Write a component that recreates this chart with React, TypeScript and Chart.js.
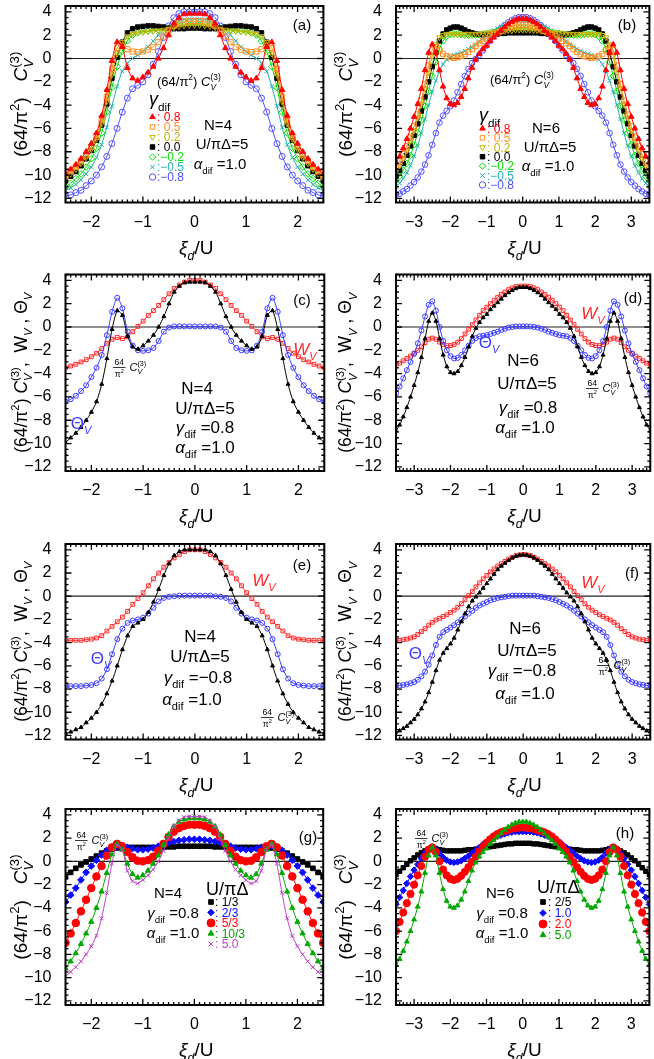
import React, { useEffect, useRef } from 'react';
import { Chart, registerables } from 'chart.js';
import { drawPoint } from 'chart.js/helpers';

Chart.register(...registerables);

const FF = '"Liberation Sans", Arial, Helvetica, sans-serif';

// ---------- x grids and tick labels ----------
const X4 = [-2.5,-2.4,-2.3,-2.2,-2.1,-2,-1.9,-1.8,-1.7,-1.6,-1.5,-1.4,-1.3,-1.2,-1.1,-1,-0.9,-0.8,-0.7,-0.6,-0.5,-0.4,-0.3,-0.2,-0.1,0,0.1,0.2,0.3,0.4,0.5,0.6,0.7,0.8,0.9,1,1.1,1.2,1.3,1.4,1.5,1.6,1.7,1.8,1.9,2,2.1,2.2,2.3,2.4,2.5];
const X6 = [-3.5,-3.4,-3.3,-3.2,-3.1,-3,-2.9,-2.8,-2.7,-2.6,-2.5,-2.4,-2.3,-2.2,-2.1,-2,-1.9,-1.8,-1.7,-1.6,-1.5,-1.4,-1.3,-1.2,-1.1,-1,-0.9,-0.8,-0.7,-0.6,-0.5,-0.4,-0.3,-0.2,-0.1,0,0.1,0.2,0.3,0.4,0.5,0.6,0.7,0.8,0.9,1,1.1,1.2,1.3,1.4,1.5,1.6,1.7,1.8,1.9,2,2.1,2.2,2.3,2.4,2.5,2.6,2.7,2.8,2.9,3,3.1,3.2,3.3,3.4,3.5];
const X4_TICKS = [-2, -1, 0, 1, 2];
const X6_TICKS = [-3, -2, -1, 0, 1, 2, 3];
const Y_TICKS = [-12, -10, -8, -6, -4, -2, 0, 2, 4];

// ---------- N=4, U/piDelta=5 : (64/pi^2) C_V^(3) for gamma_dif ----------
const A_G08 = [-9.9,-9.5,-9.1,-8.6,-8.0,-7.3,-6.4,-4.9,-2.7,-0.2,1.4,1.0,-0.8,-1.7,-1.9,-1.6,-1.2,-0.7,0.0,0.9,2.0,3.0,3.5,3.8,3.85,3.85,3.85,3.8,3.5,3.0,2.0,0.9,0.0,-0.7,-1.2,-1.6,-1.9,-1.7,-0.8,1.0,1.4,-0.2,-2.7,-4.9,-6.4,-7.3,-8.0,-8.6,-9.1,-9.5,-9.9];
const A_G05 = [-10.1,-9.7,-9.3,-8.8,-8.3,-7.6,-6.7,-5.3,-3.3,-0.9,0.9,1.1,0.8,0.6,0.55,0.6,0.75,1.0,1.4,1.9,2.4,2.8,3.0,3.15,3.2,3.2,3.2,3.15,3.0,2.8,2.4,1.9,1.4,1.0,0.75,0.6,0.55,0.6,0.8,1.1,0.9,-0.9,-3.3,-5.3,-6.7,-7.6,-8.3,-8.8,-9.3,-9.7,-10.1];
const A_G02 = [-10.3,-9.9,-9.5,-9.0,-8.5,-7.8,-6.9,-5.6,-3.7,-1.4,0.4,1.4,1.9,2.1,2.2,2.25,2.3,2.35,2.4,2.45,2.55,2.65,2.75,2.8,2.85,2.85,2.85,2.8,2.75,2.65,2.55,2.45,2.4,2.35,2.3,2.25,2.2,2.1,1.9,1.4,0.4,-1.4,-3.7,-5.6,-6.9,-7.8,-8.5,-9.0,-9.5,-9.9,-10.3];
const A_G00 = [-10.5,-10.1,-9.7,-9.2,-8.6,-7.9,-7.0,-5.7,-3.9,-1.7,0.1,1.4,2.2,2.55,2.7,2.75,2.8,2.8,2.75,2.7,2.6,2.55,2.55,2.55,2.6,2.6,2.6,2.55,2.55,2.55,2.6,2.7,2.75,2.8,2.8,2.75,2.7,2.55,2.2,1.4,0.1,-1.7,-3.9,-5.7,-7.0,-7.9,-8.6,-9.2,-9.7,-10.1,-10.5];
const A_Gm02 = [-11.0,-10.7,-10.3,-9.9,-9.3,-8.6,-7.7,-6.4,-4.6,-2.5,-0.7,0.6,1.5,2.0,2.2,2.3,2.35,2.4,2.45,2.5,2.6,2.7,2.8,2.85,2.9,2.9,2.9,2.85,2.8,2.7,2.6,2.5,2.45,2.4,2.35,2.3,2.2,2.0,1.5,0.6,-0.7,-2.5,-4.6,-6.4,-7.7,-8.6,-9.3,-9.9,-10.3,-10.7,-11.0];
const A_Gm05 = [-11.3,-11.1,-10.8,-10.4,-9.9,-9.3,-8.5,-7.4,-5.9,-4.1,-2.4,-1.1,-0.4,0.0,0.3,0.6,1.0,1.5,2.0,2.4,2.7,3.0,3.2,3.35,3.4,3.4,3.4,3.35,3.2,3.0,2.7,2.4,2.0,1.5,1.0,0.6,0.3,0.0,-0.4,-1.1,-2.4,-4.1,-5.9,-7.4,-8.5,-9.3,-9.9,-10.4,-10.8,-11.1,-11.3];
const A_Gm08 = [-11.8,-11.7,-11.5,-11.3,-10.9,-10.5,-10.0,-9.3,-8.4,-7.3,-6.0,-4.6,-3.4,-2.6,-2.3,-2.0,-1.4,-0.5,0.6,1.8,2.8,3.5,3.85,4.0,4.0,4.0,4.0,4.0,3.85,3.5,2.8,1.8,0.6,-0.5,-1.4,-2.0,-2.3,-2.6,-3.4,-4.6,-6.0,-7.3,-8.4,-9.3,-10.0,-10.5,-10.9,-11.3,-11.5,-11.7,-11.8];

// ---------- N=4 W_V and Theta_V ----------
const W_C4 = [-3.5,-3.35,-3.2,-3.0,-2.8,-2.55,-2.25,-1.85,-1.4,-1.05,-0.9,-1.0,-0.85,-0.4,0.05,0.5,1.0,1.4,1.85,2.35,2.85,3.3,3.6,3.85,4.0,4.0,4.0,3.85,3.6,3.3,2.85,2.35,1.85,1.4,1.0,0.5,0.05,-0.4,-0.85,-1.0,-0.9,-1.05,-1.4,-1.85,-2.25,-2.55,-2.8,-3.0,-3.2,-3.35,-3.5];
const T_C4 = [-6.4,-6.2,-5.9,-5.5,-5.0,-4.3,-3.5,-2.4,-0.7,1.3,2.5,1.6,-0.4,-1.6,-2.0,-2.05,-2.0,-1.8,-1.2,-0.4,-0.05,0.05,0.05,0.05,0.05,0.05,0.05,0.05,0.05,0.05,-0.05,-0.4,-1.2,-1.8,-2.0,-2.05,-2.0,-1.6,-0.4,1.6,2.5,1.3,-0.7,-2.4,-3.5,-4.3,-5.0,-5.5,-5.9,-6.2,-6.4];
const W_E4 = [-3.8,-3.8,-3.8,-3.8,-3.75,-3.7,-3.6,-3.4,-3.0,-2.6,-2.2,-1.8,-1.3,-0.7,-0.2,0.3,0.9,1.5,2.0,2.5,2.9,3.3,3.6,3.85,4.0,4.0,4.0,3.85,3.6,3.3,2.9,2.5,2.0,1.5,0.9,0.3,-0.2,-0.7,-1.3,-1.8,-2.2,-2.6,-3.0,-3.4,-3.6,-3.7,-3.75,-3.8,-3.8,-3.8,-3.8];
const T_E4 = [-7.75,-7.75,-7.75,-7.75,-7.7,-7.65,-7.5,-7.1,-6.3,-5.0,-3.7,-2.8,-2.3,-2.1,-2.0,-1.85,-1.5,-1.0,-0.45,-0.15,-0.05,0.0,0.05,0.05,0.05,0.05,0.05,0.05,0.05,0.0,-0.05,-0.15,-0.45,-1.0,-1.5,-1.85,-2.0,-2.1,-2.3,-2.8,-3.7,-5.0,-6.3,-7.1,-7.5,-7.65,-7.7,-7.75,-7.75,-7.75,-7.75];

// ---------- N=4, gamma=0.8 : various U/piDelta ----------
const G_13 = [-1.3,-0.95,-0.6,-0.3,-0.05,0.2,0.45,0.7,0.9,1.05,1.15,1.2,1.2,1.2,1.2,1.2,1.2,1.2,1.2,1.2,1.25,1.25,1.3,1.3,1.3,1.3,1.3,1.3,1.3,1.25,1.25,1.2,1.2,1.2,1.2,1.2,1.2,1.2,1.2,1.2,1.15,1.05,0.9,0.7,0.45,0.2,-0.05,-0.3,-0.6,-0.95,-1.3];
const G_23 = [-3.5,-2.9,-2.3,-1.6,-0.95,-0.4,0.1,0.55,0.95,1.2,1.3,1.3,1.2,1.1,1.0,1.0,1.05,1.15,1.3,1.45,1.6,1.7,1.8,1.85,1.9,1.9,1.9,1.85,1.8,1.7,1.6,1.45,1.3,1.15,1.05,1.0,1.0,1.1,1.2,1.3,1.3,1.2,0.95,0.55,0.1,-0.4,-0.95,-1.6,-2.3,-2.9,-3.5];
const G_53 = [-7.0,-6.2,-5.3,-4.3,-3.3,-2.3,-1.3,-0.4,0.5,1.2,1.5,1.3,0.8,0.35,0.05,0.0,0.1,0.4,0.9,1.5,2.1,2.55,2.85,3.05,3.15,3.15,3.15,3.05,2.85,2.55,2.1,1.5,0.9,0.4,0.1,0.0,0.05,0.35,0.8,1.3,1.5,1.2,0.5,-0.4,-1.3,-2.3,-3.3,-4.3,-5.3,-6.2,-7.0];
const G_103 = [-9.2,-8.6,-7.9,-7.1,-6.2,-5.2,-4.0,-2.6,-1.0,0.6,1.5,1.0,-0.2,-1.1,-1.4,-1.2,-0.8,-0.2,0.5,1.4,2.3,3.0,3.4,3.6,3.7,3.7,3.7,3.6,3.4,3.0,2.3,1.4,0.5,-0.2,-0.8,-1.2,-1.4,-1.1,-0.2,1.0,1.5,0.6,-1.0,-2.6,-4.0,-5.2,-6.2,-7.1,-7.9,-8.6,-9.2];

// ---------- N=6, U/piDelta=5 : (64/pi^2) C_V^(3) for gamma_dif ----------
const B_G08 = [-8.9,-8.4,-7.7,-6.9,-6.0,-5.0,-3.9,-2.6,-1.0,0.5,1.2,0.5,-1.0,-2.4,-3.4,-3.9,-4.0,-3.8,-3.3,-2.6,-1.7,-0.8,-0.1,0.4,0.8,1.1,1.5,1.8,2.1,2.4,2.7,2.95,3.15,3.3,3.4,3.4,3.4,3.3,3.15,2.95,2.7,2.4,2.1,1.8,1.5,1.1,0.8,0.4,-0.1,-0.8,-1.7,-2.6,-3.3,-3.8,-4.0,-3.9,-3.4,-2.4,-1.0,0.5,1.2,0.5,-1.0,-2.6,-3.9,-5.0,-6.0,-6.9,-7.7,-8.4,-8.9];
const B_G05 = [-9.3,-8.8,-8.2,-7.5,-6.7,-5.8,-4.8,-3.6,-2.2,-0.6,0.7,1.0,0.7,0.4,0.2,0.1,0.05,0.1,0.2,0.35,0.55,0.8,1.05,1.3,1.5,1.7,1.9,2.05,2.2,2.35,2.5,2.65,2.75,2.85,2.9,2.9,2.9,2.85,2.75,2.65,2.5,2.35,2.2,2.05,1.9,1.7,1.5,1.3,1.05,0.8,0.55,0.35,0.2,0.1,0.05,0.1,0.2,0.4,0.7,1.0,0.7,-0.6,-2.2,-3.6,-4.8,-5.8,-6.7,-7.5,-8.2,-8.8,-9.3];
const B_G02 = [-9.7,-9.2,-8.6,-7.9,-7.1,-6.2,-5.1,-3.9,-2.6,-1.2,0.2,1.2,1.8,2.0,2.1,2.1,2.1,2.1,2.1,2.1,2.1,2.1,2.1,2.1,2.15,2.2,2.2,2.25,2.3,2.3,2.35,2.4,2.4,2.45,2.45,2.45,2.45,2.45,2.4,2.4,2.35,2.3,2.3,2.25,2.2,2.2,2.15,2.1,2.1,2.1,2.1,2.1,2.1,2.1,2.1,2.1,2.1,2.0,1.8,1.2,0.2,-1.2,-2.6,-3.9,-5.1,-6.2,-7.1,-7.9,-8.6,-9.2,-9.7];
const B_G00 = [-10.1,-9.6,-9.0,-8.3,-7.5,-6.6,-5.6,-4.5,-3.3,-2.0,-0.7,0.5,1.5,2.1,2.45,2.6,2.7,2.7,2.6,2.45,2.3,2.2,2.1,2.05,2.05,2.05,2.05,2.1,2.1,2.15,2.15,2.2,2.2,2.2,2.2,2.2,2.2,2.2,2.2,2.2,2.15,2.15,2.1,2.1,2.05,2.05,2.05,2.05,2.1,2.2,2.3,2.45,2.6,2.7,2.7,2.6,2.45,2.1,1.5,0.5,-0.7,-2.0,-3.3,-4.5,-5.6,-6.6,-7.5,-8.3,-9.0,-9.6,-10.1];
const B_Gm02 = [-10.5,-10.1,-9.6,-9.0,-8.3,-7.4,-6.4,-5.3,-4.1,-2.8,-1.5,-0.3,0.8,1.5,1.9,2.05,2.1,2.1,2.05,2.0,2.0,2.0,2.0,2.05,2.1,2.15,2.2,2.25,2.3,2.35,2.4,2.45,2.5,2.55,2.6,2.6,2.6,2.55,2.5,2.45,2.4,2.35,2.3,2.25,2.2,2.15,2.1,2.05,2.0,2.0,2.0,2.0,2.05,2.1,2.1,2.05,1.9,1.5,0.8,-0.3,-1.5,-2.8,-4.1,-5.3,-6.4,-7.4,-8.3,-9.0,-9.6,-10.1,-10.5];
const B_Gm05 = [-11.0,-10.7,-10.3,-9.8,-9.2,-8.4,-7.5,-6.4,-5.2,-4.0,-2.9,-1.9,-1.1,-0.5,-0.1,0.15,0.3,0.4,0.5,0.65,0.8,1.0,1.2,1.45,1.7,1.95,2.2,2.4,2.6,2.75,2.9,3.0,3.1,3.15,3.2,3.2,3.2,3.15,3.1,3.0,2.9,2.75,2.6,2.4,2.2,1.95,1.7,1.45,1.2,1.0,0.8,0.65,0.5,0.4,0.3,0.15,-0.1,-0.5,-1.1,-1.9,-2.9,-4.0,-5.2,-6.4,-7.5,-8.4,-9.2,-9.8,-10.3,-10.7,-11.0];
const B_Gm08 = [-11.7,-11.6,-11.4,-11.2,-10.9,-10.6,-10.2,-9.7,-9.1,-8.3,-7.4,-6.4,-5.5,-4.9,-4.5,-4.1,-3.6,-2.9,-2.2,-1.5,-0.9,-0.4,-0.05,0.3,0.7,1.1,1.5,1.9,2.3,2.6,2.85,3.1,3.3,3.45,3.55,3.55,3.55,3.45,3.3,3.1,2.85,2.6,2.3,1.9,1.5,1.1,0.7,0.3,-0.05,-0.4,-0.9,-1.5,-2.2,-2.9,-3.6,-4.1,-4.5,-4.9,-5.5,-6.4,-7.4,-8.3,-9.1,-9.7,-10.2,-10.6,-10.9,-11.2,-11.4,-11.6,-11.7];

// ---------- N=6 W_V and Theta_V ----------
const W_D6 = [-3.3,-3.1,-2.9,-2.7,-2.5,-2.25,-2.0,-1.7,-1.35,-1.05,-0.95,-1.05,-1.3,-1.5,-1.6,-1.6,-1.5,-1.3,-1.0,-0.6,-0.2,0.2,0.6,1.0,1.4,1.7,2.0,2.3,2.55,2.8,3.0,3.2,3.35,3.45,3.5,3.5,3.5,3.45,3.35,3.2,3.0,2.8,2.55,2.3,2.0,1.7,1.4,1.0,0.6,0.2,-0.2,-0.6,-1.0,-1.3,-1.5,-1.6,-1.6,-1.5,-1.3,-1.05,-0.95,-1.05,-1.35,-1.7,-2.0,-2.25,-2.5,-2.7,-2.9,-3.1,-3.3];
const T_D6 = [-5.7,-5.1,-4.4,-3.7,-3.0,-2.3,-1.4,-0.3,0.9,1.9,2.2,1.4,0.0,-1.2,-2.0,-2.5,-2.7,-2.65,-2.4,-2.0,-1.6,-1.2,-0.95,-0.8,-0.75,-0.7,-0.6,-0.5,-0.4,-0.25,-0.15,-0.05,0.0,0.05,0.05,0.05,0.05,0.05,0.0,-0.05,-0.15,-0.25,-0.4,-0.5,-0.6,-0.7,-0.75,-0.8,-0.95,-1.2,-1.6,-2.0,-2.4,-2.65,-2.7,-2.5,-2.0,-1.2,0.0,1.4,2.2,1.9,0.9,-0.3,-1.4,-2.3,-3.0,-3.7,-4.4,-5.1,-5.7];
const W_F6 = [-3.8,-3.8,-3.75,-3.7,-3.6,-3.5,-3.3,-3.05,-2.8,-2.5,-2.25,-2.05,-1.9,-1.75,-1.6,-1.4,-1.2,-0.95,-0.65,-0.3,0.05,0.4,0.8,1.15,1.5,1.8,2.1,2.35,2.6,2.8,3.0,3.2,3.35,3.5,3.55,3.6,3.55,3.5,3.35,3.2,3.0,2.8,2.6,2.35,2.1,1.8,1.5,1.15,0.8,0.4,0.05,-0.3,-0.65,-0.95,-1.2,-1.4,-1.6,-1.75,-1.9,-2.05,-2.25,-2.5,-2.8,-3.05,-3.3,-3.5,-3.6,-3.7,-3.75,-3.8,-3.8];
const T_F6 = [-7.7,-7.7,-7.65,-7.6,-7.5,-7.4,-7.2,-6.9,-6.5,-5.9,-5.1,-4.2,-3.5,-3.1,-2.9,-2.7,-2.5,-2.25,-2.0,-1.75,-1.5,-1.25,-1.0,-0.8,-0.65,-0.5,-0.35,-0.25,-0.15,-0.1,-0.05,0.0,0.05,0.05,0.05,0.05,0.05,0.05,0.05,0.0,-0.05,-0.1,-0.15,-0.25,-0.35,-0.5,-0.65,-0.8,-1.0,-1.25,-1.5,-1.75,-2.0,-2.25,-2.5,-2.7,-2.9,-3.1,-3.5,-4.2,-5.1,-5.9,-6.5,-6.9,-7.2,-7.4,-7.5,-7.6,-7.65,-7.7,-7.7];

// ---------- N=6, gamma=0.8 : various U/piDelta ----------
const H_25 = [-1.15,-0.85,-0.55,-0.25,0.05,0.3,0.55,0.75,0.9,1.0,1.15,1.1,1.0,0.95,0.9,0.9,0.9,0.9,0.9,0.95,1.0,1.0,1.05,1.1,1.15,1.2,1.25,1.3,1.35,1.4,1.45,1.5,1.5,1.55,1.55,1.55,1.55,1.55,1.5,1.5,1.45,1.4,1.35,1.3,1.25,1.2,1.15,1.1,1.05,1.0,1.0,0.95,0.9,0.9,0.9,0.9,0.9,0.95,1.0,1.1,1.15,1.0,0.9,0.75,0.55,0.3,0.05,-0.25,-0.55,-0.85,-1.15];
const H_10 = [-3.7,-3.1,-2.5,-1.9,-1.3,-0.75,-0.25,0.25,0.7,1.05,1.2,1.05,0.7,0.35,0.1,-0.05,-0.1,-0.05,0.05,0.25,0.45,0.7,0.95,1.2,1.45,1.65,1.85,2.0,2.15,2.25,2.35,2.45,2.5,2.55,2.55,2.55,2.55,2.55,2.5,2.45,2.35,2.25,2.15,2.0,1.85,1.65,1.45,1.2,0.95,0.7,0.45,0.25,0.05,-0.05,-0.1,-0.05,0.1,0.35,0.7,1.05,1.2,1.05,0.7,0.25,-0.25,-0.75,-1.3,-1.9,-2.5,-3.1,-3.7];
const H_20 = [-6.0,-5.2,-4.4,-3.6,-2.8,-2.0,-1.2,-0.4,0.4,1.0,1.2,0.8,0.0,-0.7,-1.2,-1.5,-1.6,-1.5,-1.25,-0.9,-0.5,-0.05,0.4,0.85,1.25,1.6,1.9,2.15,2.35,2.5,2.6,2.7,2.8,2.85,2.9,2.9,2.9,2.85,2.8,2.7,2.6,2.5,2.35,2.15,1.9,1.6,1.25,0.85,0.4,-0.05,-0.5,-0.9,-1.25,-1.5,-1.6,-1.5,-1.2,-0.7,0.0,0.8,1.2,1.0,0.4,-0.4,-1.2,-2.0,-2.8,-3.6,-4.4,-5.2,-6.0];

// ---------- colours ----------
const RED = '#ff0000';
const ORANGE = '#ff8f1f';
const YELLOW = '#c4b300';
const BLACK = '#000000';
const GREEN = '#00dd00';
const CYAN = '#1fb0b0';
const BLUE = '#4f4fff';
const WRED = '#ff2a2a';
const TBLUE = '#3a3aff';
const GBLUE = '#0a0aff';
const GGREEN = '#00a800';
const MAG = '#c040c8';

// ---------- text helpers ----------
type Seg = { t: string; s: number; it?: boolean; dy?: number; adv?: number; c?: string };
const fnt = (s: number, it?: boolean) => `${it ? 'italic ' : ''}${s}px ${FF}`;
const N = (t: string, s: number, it = false, c?: string): Seg => ({ t, s, it, c });
const SUB = (t: string, s: number, it = false, c?: string): Seg => ({ t, s: s * 0.65, it, dy: s * 0.3, c });
const SUP = (t: string, s: number, c?: string): Seg => ({ t, s: s * 0.65, dy: -s * 0.42, c });
const CV3 = (s: number, c?: string): Seg[] => [N('C', s, true, c), { ...SUB('V', s, true, c), adv: 0 }, SUP('(3)', s, c)];
const GAM = (v: string, s: number): Seg[] => [N('\u03b3', s, true), SUB('dif', s), N(' =' + v, s)];
const ALP = (v: string, s: number): Seg[] => [N('\u03b1', s, true), SUB('dif', s), N(' =' + v, s)];

function R(ctx: CanvasRenderingContext2D, segs: Seg[], x: number, yc: number, align: 'left' | 'center' | 'right' = 'center', color = '#000') {
  let w = 0;
  for (const g of segs) { ctx.font = fnt(g.s, g.it); w += g.adv ?? ctx.measureText(g.t).width; }
  let cx = align === 'center' ? x - w / 2 : align === 'right' ? x - w : x;
  const by = yc + segs[0].s * 0.36;
  ctx.textAlign = 'left';
  ctx.textBaseline = 'alphabetic';
  for (const g of segs) {
    ctx.font = fnt(g.s, g.it);
    ctx.fillStyle = g.c ?? color;
    ctx.fillText(g.t, cx, by + (g.dy ?? 0));
    cx += g.adv ?? ctx.measureText(g.t).width;
  }
}

function FRAC(ctx: CanvasRenderingContext2D, x: number, yc: number, s: number, color = '#000') {
  const fs = s * 0.78;
  ctx.font = fnt(fs);
  const w1 = ctx.measureText('64').width;
  const w = w1 + 3;
  ctx.fillStyle = color;
  ctx.textAlign = 'center';
  ctx.textBaseline = 'alphabetic';
  ctx.fillText('64', x + w / 2, yc - 2);
  ctx.strokeStyle = color;
  ctx.lineWidth = 0.8;
  ctx.beginPath(); ctx.moveTo(x, yc + 0.5); ctx.lineTo(x + w, yc + 0.5); ctx.stroke();
  R(ctx, [N('\u03c0', fs), SUP('2', fs)], x + w / 2, yc + 3 + fs * 0.45, 'center', color);
  R(ctx, CV3(s), x + w + 4, yc, 'left', color);
}

function MK(ctx: CanvasRenderingContext2D, x: number, y: number, ps: string, r: number, c: string, fill: boolean, rot = 0) {
  ctx.save();
  ctx.fillStyle = fill ? c : 'rgba(0,0,0,0)';
  ctx.strokeStyle = c;
  ctx.lineWidth = 1;
  drawPoint(ctx, { pointStyle: ps, radius: r, rotation: rot, borderWidth: 1 } as any, x, y);
  ctx.restore();
}

const YT_SHORT = (s: number): Seg[] => [N('(64/\u03c0', s), { t: '2', s: s * 0.7, dy: -s * 0.42 }, N(')   ', s), N('C', s, true), { t: 'V', s: s * 0.7, it: true, dy: s * 0.3, adv: 0 }, { t: '(3)', s: s * 0.7, dy: -s * 0.45 }];
const YT_LONG = (s: number): Seg[] => [N('(64/\u03c0', s), SUP('2', s), N(') ', s), ...CV3(s), N(',  W', s), SUB('V', s, true), N(' , \u0398', s), SUB('V', s, true)];
const WV = (s: number): Seg[] => [N('W', s, true, WRED), SUB('V', s, true, WRED)];
const TV = (s: number): Seg[] => [N('\u0398', s, false, TBLUE), SUB('V', s, true, TBLUE)];

// ---------- panel annotations (page coordinates) ----------
const GLEG: [string, string, boolean, number, string][] = [
  [RED, 'triangle', true, 0, ': 0.8'],
  [ORANGE, 'rect', false, 0, ': 0.5'],
  [YELLOW, 'triangle', false, 180, ': 0.2'],
  [BLACK, 'rect', true, 0, ': 0.0'],
  [GREEN, 'rectRot', false, 0, ':\u22120.2'],
  [CYAN, 'crossRot', false, 0, ':\u22120.5'],
  [BLUE, 'circle', false, 0, ':\u22120.8'],
];

function drawA(ctx: CanvasRenderingContext2D) {
  R(ctx, [N('(a)', 15)], 302, 25);
  R(ctx, [N('(64/\u03c0', 13), SUP('2', 13), N(') ', 13), ...CV3(13)], 157, 81, 'left');
  R(ctx, [N('\u03b3', 18, true), SUB('dif', 18)], 149, 99, 'left');
  GLEG.forEach((g, i) => {
    const y = 117 + 10 * i;
    MK(ctx, 152.5, y, g[1], 3.2, g[0], g[2], g[3]);
    R(ctx, [N(g[4], 12, false, g[0])], 157, y, 'left');
  });
  R(ctx, [N('N=4', 15)], 218, 125);
  R(ctx, [N('U/\u03c0\u0394=5', 15)], 222, 144);
  R(ctx, ALP('1.0', 15), 220, 164);
}
function drawB(ctx: CanvasRenderingContext2D) {
  R(ctx, [N('(b)', 15)], 627, 25);
  R(ctx, [N('(64/\u03c0', 13), SUP('2', 13), N(') ', 13), ...CV3(13)], 490, 79, 'left');
  R(ctx, [N('\u03b3', 18, true), SUB('dif', 18)], 479, 115, 'left');
  GLEG.forEach((g, i) => {
    const y = 128.5 + 9.4 * i;
    MK(ctx, 482.5, y, g[1], 3.2, g[0], g[2], g[3]);
    R(ctx, [N(g[4], 12, false, g[0])], 487, y, 'left');
  });
  R(ctx, [N('N=6', 15)], 546, 128);
  R(ctx, [N('U/\u03c0\u0394=5', 15)], 550, 147);
  R(ctx, ALP('1.0', 15), 548, 166);
}
function drawC(ctx: CanvasRenderingContext2D) {
  R(ctx, [N('(c)', 15)], 302, 300);
  R(ctx, WV(17), 305, 349);
  R(ctx, TV(17), 81, 423);
  FRAC(ctx, 113, 367, 11);
  R(ctx, [N('N=4', 17)], 197, 388);
  R(ctx, [N('U/\u03c0\u0394=5', 17)], 205, 408);
  R(ctx, GAM('0.8', 17), 205, 427);
  R(ctx, ALP('1.0', 17), 205, 447);
}
function drawD(ctx: CanvasRenderingContext2D) {
  R(ctx, [N('(d)', 15)], 633, 298);
  R(ctx, WV(17), 593, 313);
  R(ctx, TV(17), 489, 342);
  FRAC(ctx, 586, 388, 11);
  R(ctx, [N('N=6', 17)], 523, 360);
  R(ctx, [N('U/\u03c0\u0394=5', 17)], 527, 383);
  R(ctx, GAM('0.8', 17), 528, 407);
  R(ctx, ALP('1.0', 17), 525, 427);
}
function drawE(ctx: CanvasRenderingContext2D) {
  R(ctx, [N('(e)', 15)], 302, 565);
  R(ctx, WV(17), 264, 580);
  R(ctx, TV(17), 101, 658);
  FRAC(ctx, 261, 717, 11);
  R(ctx, [N('N=4', 17)], 200, 636);
  R(ctx, [N('U/\u03c0\u0394=5', 17)], 200, 656);
  R(ctx, GAM('\u22120.8', 17), 198, 677);
  R(ctx, ALP('1.0', 17), 192, 699);
}
function drawF(ctx: CanvasRenderingContext2D) {
  R(ctx, [N('(f)', 15)], 632, 573);
  R(ctx, WV(17), 593, 582);
  R(ctx, TV(17), 419, 653);
  FRAC(ctx, 597, 665, 11);
  R(ctx, [N('N=6', 17)], 525, 628);
  R(ctx, [N('U/\u03c0\u0394=5', 17)], 527, 650);
  R(ctx, GAM('\u22120.8', 17), 522, 670);
  R(ctx, ALP('1.0', 17), 525, 693);
}
function drawG(ctx: CanvasRenderingContext2D) {
  R(ctx, [N('(g)', 15)], 308, 837);
  FRAC(ctx, 75, 840, 11);
  R(ctx, [N('N=4', 15)], 168, 893);
  R(ctx, GAM('0.8', 15), 173, 913);
  R(ctx, ALP('1.0', 15), 173, 933);
  R(ctx, [N('U/\u03c0\u0394', 18)], 206, 889, 'left');
  const L: [string, string, boolean, string][] = [
    [BLACK, 'rect', true, ': 1/3'], [GBLUE, 'rectRot', true, ': 2/3'], [RED, 'circle', true, ': 5/3'],
    [GGREEN, 'triangle', true, ': 10/3'], [MAG, 'crossRot', false, ': 5.0'],
  ];
  L.forEach((g, i) => {
    const y = 902 + 10.5 * i;
    MK(ctx, 211, y, g[1], g[1] === 'circle' ? 4 : 3.3, g[0], g[2]);
    R(ctx, [N(g[3], 12, false, g[0])], 215, y, 'left');
  });
}
function drawH(ctx: CanvasRenderingContext2D) {
  R(ctx, [N('(h)', 15)], 625, 833);
  FRAC(ctx, 415, 838, 11);
  R(ctx, [N('N=6', 15)], 500, 893);
  R(ctx, GAM('0.8', 15), 502, 913);
  R(ctx, ALP('1.0', 15), 502, 933);
  R(ctx, [N('U/\u03c0\u0394', 18)], 537, 887, 'left');
  const L: [string, string, boolean, string][] = [
    [BLACK, 'rect', true, ': 2/5'], [GBLUE, 'rectRot', true, ': 1.0'], [RED, 'circle', true, ': 2.0'],
    [GGREEN, 'triangle', true, ': 5.0'],
  ];
  L.forEach((g, i) => {
    const y = 902 + 11 * i;
    MK(ctx, 543, y, g[1], g[1] === 'circle' ? 4 : 3.3, g[0], g[2]);
    R(ctx, [N(g[3], 12, false, g[0])], 548, y, 'left');
  });
}

// ---------- panel configuration ----------
type S = { y: number[]; c: string; ps: string; r: number; fill: boolean; rot?: number };
type P = {
  id: string; cell: number[]; plot: number[]; xs: number[]; xt: number[]; xmin: number; xmax: number;
  long: boolean; ytx: number; series: S[]; draw: (ctx: CanvasRenderingContext2D) => void;
};

const COL = [{ l: 0, w: 328, pl: 65.5, pr: 327, ytx: 20.5 }, { l: 328, w: 326, pl: 396, pr: 653, ytx: 345 }];
const ROW = [{ t: 0, h: 265, pt: 6, pb: 202.5 }, { t: 265, h: 268, pt: 274.5, pb: 471 }, { t: 533, h: 267, pt: 544, pb: 739.5 }, { t: 800, h: 259, pt: 809, pb: 1005 }];
const mk = (c: number, r: number) => ({ cell: [COL[c].l, ROW[r].t, COL[c].w, ROW[r].h], plot: [COL[c].pl, ROW[r].pt, COL[c].pr, ROW[r].pb], ytx: COL[c].ytx });

const GSER = (y: number[][], r6: boolean): S[] => [
  { y: y[0], c: RED, ps: 'triangle', r: 3.2, fill: true },
  { y: y[1], c: ORANGE, ps: 'rect', r: 3.6, fill: false },
  { y: y[2], c: YELLOW, ps: 'triangle', r: 3.2, fill: false, rot: 180 },
  { y: y[3], c: BLACK, ps: 'rect', r: 3.1, fill: true },
  { y: y[4], c: GREEN, ps: 'rectRot', r: 3.3, fill: false },
  { y: y[5], c: CYAN, ps: 'crossRot', r: 3, fill: false },
  { y: y[6], c: BLUE, ps: 'circle', r: r6 ? 2.8 : 3, fill: false },
];
const WTSER = (c: number[], w: number[], t: number[]): S[] => [
  { y: c, c: BLACK, ps: 'triangle', r: 2.3, fill: true },
  { y: t, c: TBLUE, ps: 'circle', r: 2.5, fill: false },
  { y: w, c: WRED, ps: 'rect', r: 2.7, fill: false },
];

const PANELS: P[] = [
  { id: 'a', ...mk(0, 0), xs: X4, xt: X4_TICKS, xmin: -2.5, xmax: 2.5, long: false, draw: drawA,
    series: GSER([A_G08, A_G05, A_G02, A_G00, A_Gm02, A_Gm05, A_Gm08], false) },
  { id: 'b', ...mk(1, 0), xs: X6, xt: X6_TICKS, xmin: -3.5, xmax: 3.5, long: false, draw: drawB,
    series: GSER([B_G08, B_G05, B_G02, B_G00, B_Gm02, B_Gm05, B_Gm08], true) },
  { id: 'c', ...mk(0, 1), xs: X4, xt: X4_TICKS, xmin: -2.5, xmax: 2.5, long: true, draw: drawC, series: WTSER(A_G08, W_C4, T_C4) },
  { id: 'd', ...mk(1, 1), xs: X6, xt: X6_TICKS, xmin: -3.5, xmax: 3.5, long: true, draw: drawD, series: WTSER(B_G08, W_D6, T_D6) },
  { id: 'e', ...mk(0, 2), xs: X4, xt: X4_TICKS, xmin: -2.5, xmax: 2.5, long: true, draw: drawE, series: WTSER(A_Gm08, W_E4, T_E4) },
  { id: 'f', ...mk(1, 2), xs: X6, xt: X6_TICKS, xmin: -3.5, xmax: 3.5, long: true, draw: drawF, series: WTSER(B_Gm08, W_F6, T_F6) },
  { id: 'g', ...mk(0, 3), xs: X4, xt: X4_TICKS, xmin: -2.5, xmax: 2.5, long: false, draw: drawG,
    series: [
      { y: A_G08, c: MAG, ps: 'crossRot', r: 2.8, fill: false },
      { y: G_103, c: GGREEN, ps: 'triangle', r: 3, fill: true },
      { y: G_53, c: RED, ps: 'circle', r: 3.8, fill: true },
      { y: G_23, c: GBLUE, ps: 'rectRot', r: 3.4, fill: true },
      { y: G_13, c: BLACK, ps: 'rect', r: 3.3, fill: true },
    ] },
  { id: 'h', ...mk(1, 3), xs: X6, xt: X6_TICKS, xmin: -3.5, xmax: 3.5, long: false, draw: drawH,
    series: [
      { y: B_G08, c: GGREEN, ps: 'triangle', r: 2.8, fill: true },
      { y: H_20, c: RED, ps: 'circle', r: 3.6, fill: true },
      { y: H_10, c: GBLUE, ps: 'rectRot', r: 3.2, fill: true },
      { y: H_25, c: BLACK, ps: 'rect', r: 3.1, fill: true },
    ] },
];

const YMIN = -12.35;
const YMAX = 4.5;
const fmt = (v: any) => { const n = Number(v); return (n < 0 ? '\u2212' : '') + String(Math.abs(n)); };

function Panel({ p }: { p: P }) {
  const ref = useRef<HTMLCanvasElement>(null);
  useEffect(() => {
    const [cl, ct, cw, ch] = p.cell;
    const [pl, pt, pr, pb] = p.plot;
    const deco = {
      id: 'deco' + p.id,
      beforeDatasetsDraw(chart: any) {
        const { ctx, chartArea: a, scales } = chart;
        const y0 = scales.y.getPixelForValue(0);
        ctx.save();
        ctx.strokeStyle = '#222';
        ctx.lineWidth = 1.2;
        ctx.beginPath(); ctx.moveTo(a.left, y0); ctx.lineTo(a.right, y0); ctx.stroke();
        ctx.restore();
      },
      afterDatasetsDraw(chart: any) {
        const { ctx, chartArea: a, scales } = chart;
        const xs = scales.x, ys = scales.y;
        ctx.save();
        ctx.strokeStyle = '#000';
        ctx.lineWidth = 1.3;
        ctx.beginPath();
        for (let k = Math.ceil(p.xmin * 10 - 1e-6); k <= Math.floor(p.xmax * 10 + 1e-6); k++) {
          const px = xs.getPixelForValue(k / 10);
          const len = k % 10 === 0 ? 6 : 3;
          ctx.moveTo(px, a.bottom); ctx.lineTo(px, a.bottom - len);
          ctx.moveTo(px, a.top); ctx.lineTo(px, a.top + len);
        }
        for (let k = Math.ceil(YMIN * 2 - 1e-6); k <= Math.floor(YMAX * 2 + 1e-6); k++) {
          const py = ys.getPixelForValue(k / 2);
          const len = k % 4 === 0 ? 6 : 3;
          ctx.moveTo(a.left, py); ctx.lineTo(a.left + len, py);
          ctx.moveTo(a.right, py); ctx.lineTo(a.right - len, py);
        }
        ctx.stroke();
        ctx.lineWidth = 2;
        ctx.strokeRect(a.left, a.top, a.right - a.left, a.bottom - a.top);
        ctx.restore();
      },
      afterDraw(chart: any) {
        const ctx: CanvasRenderingContext2D = chart.ctx;
        ctx.save();
        ctx.translate(-cl, -ct);
        ctx.save();
        ctx.translate(p.ytx, (pt + pb) / 2);
        ctx.rotate(-Math.PI / 2);
        R(ctx, p.long ? YT_LONG(17.5) : YT_SHORT(19), 0, 0, 'center');
        ctx.restore();
        R(ctx, [N('\u03be', 19, true), SUB('d', 19, true), N('/U', 19)], (pl + pr) / 2, pb + 44.5, 'center');
        p.draw(ctx);
        ctx.restore();
      },
    };
    const zeroPad = (s: any) => { s.paddingTop = 0; s.paddingBottom = 0; s.paddingLeft = 0; s.paddingRight = 0; };
    const chart = new Chart(ref.current as HTMLCanvasElement, {
      type: 'scatter',
      data: {
        datasets: p.series.map((s) => ({
          data: p.xs.map((x, i) => ({ x, y: s.y[i] })),
          showLine: true,
          borderColor: s.c,
          borderWidth: 1,
          tension: 0.25,
          pointStyle: s.ps as any,
          pointRadius: s.r,
          pointRotation: s.rot ?? 0,
          pointBackgroundColor: s.fill ? s.c : 'rgba(0,0,0,0)',
          pointBorderColor: s.c,
          pointBorderWidth: 1,
          pointHoverRadius: s.r,
          clip: 0,
        })),
      },
      options: {
        responsive: false,
        animation: false,
        devicePixelRatio: 1,
        events: [],
        layout: { padding: { left: 0, top: pt - ct, right: cl + cw - pr, bottom: 0 } },
        plugins: { legend: { display: false }, tooltip: { enabled: false } },
        scales: {
          x: {
            type: 'linear', min: p.xmin, max: p.xmax,
            grid: { display: false }, border: { display: false },
            afterBuildTicks: (s: any) => { s.ticks = p.xt.map((v) => ({ value: v })); },
            afterFit: (s: any) => { s.height = ct + ch - pb; zeroPad(s); },
            ticks: { autoSkip: false, maxRotation: 0, padding: 2, color: '#000', font: { family: FF, size: 16 }, callback: fmt },
          },
          y: {
            type: 'linear', min: YMIN, max: YMAX,
            grid: { display: false }, border: { display: false },
            afterBuildTicks: (s: any) => { s.ticks = Y_TICKS.map((v) => ({ value: v })); },
            afterFit: (s: any) => { s.width = pl - cl; zeroPad(s); },
            ticks: { autoSkip: false, padding: 6, color: '#000', font: { family: FF, size: 16 }, callback: fmt },
          },
        },
      } as any,
      plugins: [deco],
    });
    return () => chart.destroy();
  }, []);
  const [cl, ct, cw, ch] = p.cell;
  return <canvas ref={ref} width={cw} height={ch} style={{ position: 'absolute', left: cl, top: ct, width: cw, height: ch }} />;
}

export default function App() {
  return (
    <div style={{ position: 'absolute', left: 0, top: 0, width: 654, height: 1059, background: '#fff', overflow: 'hidden' }}>
      {PANELS.map((p) => <Panel key={p.id} p={p} />)}
    </div>
  );
}
